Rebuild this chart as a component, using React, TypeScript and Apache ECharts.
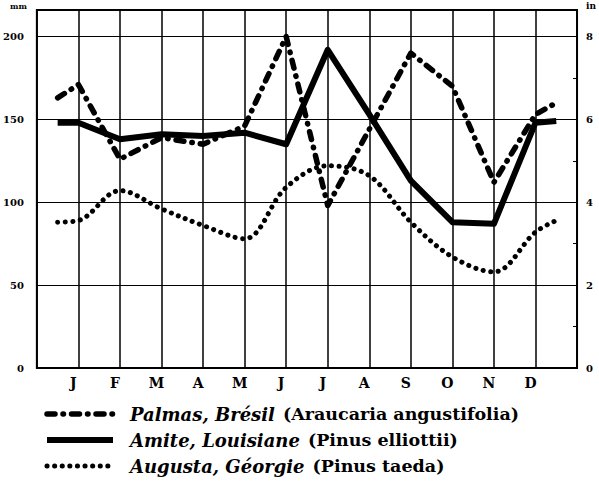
import React, { useEffect, useRef } from 'react';
import * as echarts from 'echarts';

// Month letters (x-axis labels)
const MONTHS = ['J', 'F', 'M', 'A', 'M', 'J', 'J', 'A', 'S', 'O', 'N', 'D'];
// Tick labels
const MM_TICKS = [0, 50, 100, 150, 200];
const IN_TICKS = [0, 2, 4, 6, 8];

// Series names
const PALMAS_NAME = 'Palmas, Brésil (Araucaria angustifolia)';
const AMITE_NAME = 'Amite, Louisiane (Pinus elliottii)';
const AUGUSTA_NAME = 'Augusta, Géorgie (Pinus taeda)';

// Monthly rainfall in mm (mid-month values, J..D)
const palmas = [171, 126, 139, 135, 146, 200, 98, 144, 190, 170, 112, 153];
const amite = [148, 138, 141, 140, 142, 135, 192, 153, 113, 88, 87, 148];
const augusta = [89, 107, 96, 86, 78, 109, 122, 116, 88, 67, 58, 82];
// Values at the start of January and at the end of December
const palmasEdges = [163, 160];
const amiteEdges = [148, 149];
const augustaEdges = [88, 89];

const SERIF = 'DejaVu Serif';

function toData(values: number[], edges: number[]) {
  return [
    [0, edges[0]],
    ...values.map((v, i) => [i + 0.5, v]),
    [12, edges[1]],
  ];
}

const palmasStyle = { color: '#000', width: 5.5, type: [8, 8, 0.5, 8], cap: 'round' as const, join: 'round' as const };
const amiteStyle = { color: '#000', width: 6, type: 'solid' as const, cap: 'butt' as const, join: 'round' as const };
const augustaStyle = { color: '#000', width: 5, type: [0.1, 7.5], cap: 'round' as const, join: 'round' as const };

export default function App() {
  const ref = useRef<HTMLDivElement>(null);

  useEffect(() => {
    document.body.style.margin = '0';
    if (!ref.current) return;
    const chart = echarts.init(ref.current, undefined, { renderer: 'svg' });
    const option: any = {
      animation: false,
      backgroundColor: '#fff',
      grid: {
        left: 35,
        right: 21,
        top: 10,
        bottom: 118,
        show: true,
        borderColor: '#000',
        borderWidth: 2,
        backgroundColor: 'transparent',
      },
      xAxis: [
        {
          type: 'value',
          min: -0.5,
          max: 12.5,
          interval: 1,
          axisLine: { show: false, onZero: false },
          axisTick: { show: false },
          axisLabel: { show: false },
          splitLine: { show: true, lineStyle: { color: '#000', width: 1.5 } },
        },
        {
          type: 'value',
          min: -0.5,
          max: 12.5,
          interval: 0.5,
          position: 'bottom',
          axisLine: { show: false, onZero: false },
          axisTick: { show: false },
          splitLine: { show: false },
          axisLabel: {
            formatter: (v: number) => {
              const i = Math.round((v - 0.5) * 1000) / 1000;
              return Number.isInteger(i) && i >= 0 && i < 12 ? MONTHS[i] : '';
            },
            fontFamily: SERIF,
            fontWeight: 'bold',
            fontSize: 14,
            color: '#000',
            margin: 8,
            padding: [0, 10, 0, 0],
          },
        },
      ],
      yAxis: [
        {
          type: 'value',
          min: 0,
          max: 216,
          interval: 50,
          position: 'left',
          name: 'mm',
          nameLocation: 'end',
          nameGap: 4,
          nameTextStyle: {
            fontFamily: SERIF,
            fontWeight: 'bold',
            fontSize: 8,
            color: '#000',
            align: 'right',
            verticalAlign: 'middle',
            padding: [0, 10, 0, 0],
          },
          axisLine: { show: false, onZero: false },
          axisTick: { show: false },
          axisLabel: {
            formatter: (v: number) => (MM_TICKS.includes(v) ? String(v) : ''),
            fontFamily: SERIF,
            fontWeight: 'bold',
            fontSize: 10,
            color: '#000',
            margin: 13,
          },
          splitLine: { show: true, lineStyle: { color: '#000', width: 1 } },
        },
        {
          type: 'value',
          min: 0,
          max: 8.64,
          interval: 1,
          position: 'right',
          name: 'in',
          nameLocation: 'end',
          nameGap: 4,
          nameTextStyle: {
            fontFamily: SERIF,
            fontWeight: 'bold',
            fontSize: 9,
            color: '#000',
            align: 'left',
            verticalAlign: 'middle',
            padding: [0, 0, 0, 9],
          },
          axisLine: { show: false, onZero: false },
          axisTick: { show: true, inside: true, length: 4, lineStyle: { color: '#000', width: 1 } },
          axisLabel: {
            formatter: (v: number) => (IN_TICKS.includes(v) ? String(v) : ''),
            fontFamily: SERIF,
            fontWeight: 'bold',
            fontSize: 10,
            color: '#000',
            margin: 9,
          },
          splitLine: { show: false },
        },
      ],
      legend: {
        orient: 'vertical',
        left: 39,
        top: 400,
        itemWidth: 66,
        itemHeight: 14,
        itemGap: 8,
        selectedMode: false,
        itemStyle: { color: 'rgba(0,0,0,0)', borderWidth: 0 },
        data: [
          { name: PALMAS_NAME, lineStyle: palmasStyle },
          { name: AMITE_NAME, lineStyle: amiteStyle },
          { name: AUGUSTA_NAME, lineStyle: augustaStyle },
        ],
        formatter: (name: string) => {
          const k = name.indexOf(' (');
          return `{it|${name.slice(0, k)}}{rm|${name.slice(k + 1)}}`;
        },
        textStyle: {
          padding: [0, 0, 0, 12],
          rich: {
            it: { fontFamily: SERIF, fontStyle: 'italic', fontWeight: 'bold', fontSize: 18, lineHeight: 21, color: '#000' },
            rm: { fontFamily: SERIF, fontWeight: 'bold', fontSize: 17.5, lineHeight: 21, color: '#000', padding: [0, 0, 0, 8] },
          },
        },
      },
      series: [
        {
          name: PALMAS_NAME,
          type: 'line',
          xAxisIndex: 0,
          yAxisIndex: 0,
          symbol: 'none',
          data: toData(palmas, palmasEdges),
          lineStyle: palmasStyle,
        },
        {
          name: AMITE_NAME,
          type: 'line',
          xAxisIndex: 0,
          yAxisIndex: 0,
          symbol: 'none',
          data: toData(amite, amiteEdges),
          lineStyle: amiteStyle,
        },
        {
          name: AUGUSTA_NAME,
          type: 'line',
          xAxisIndex: 0,
          yAxisIndex: 0,
          symbol: 'none',
          smooth: 0.35,
          data: toData(augusta, augustaEdges),
          lineStyle: augustaStyle,
        },
      ],
    };
    chart.setOption(option);
    return () => chart.dispose();
  }, []);

  return <div ref={ref} style={{ width: 599, height: 486 }} />;
}
